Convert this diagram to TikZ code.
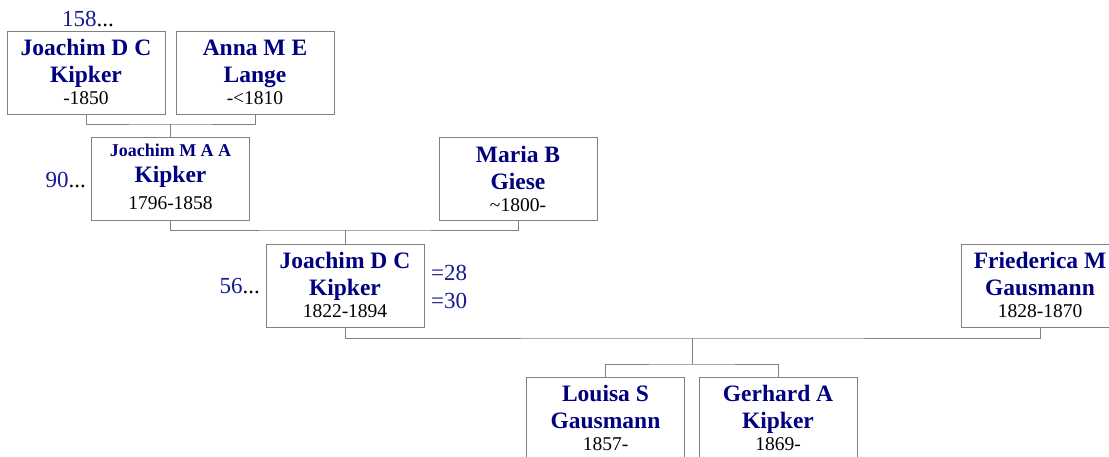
\documentclass[tikz,border=0pt]{standalone}
\usepackage{fontspec}
\setmainfont{Liberation Serif}
\definecolor{nm}{RGB}{0,0,128}
\definecolor{num}{RGB}{24,24,150}
\definecolor{ln}{RGB}{128,128,128}
\tikzset{
 pbox/.style={draw=ln,line width=1pt,minimum width=158pt,minimum height=83pt,inner sep=0pt,fill=white},
 conn/.style={draw=ln,line width=1pt},
 nmtext/.style={text=nm,font=\fontsize{23.5}{27}\selectfont\bfseries,anchor=base,inner sep=0pt},
 smtext/.style={text=nm,font=\fontsize{18}{20}\selectfont\bfseries,anchor=base,inner sep=0pt},
 dttext/.style={text=black,font=\fontsize{19.5}{22}\selectfont,anchor=base,inner sep=0pt},
 numtext/.style={text=black,font=\fontsize{23}{26}\selectfont,inner sep=0pt},
}
\newcommand\person[6]{%
 \node[pbox] (#1) at (#2,#3) {};
 \node[nmtext] (#1a) at ([yshift=-25pt]#1.north) {#4};
 \node[nmtext] (#1b) at ([yshift=-52pt]#1.north) {#5};
 \node[dttext] (#1c) at ([yshift=-74pt]#1.north) {#6};
}
\begin{document}
\begin{tikzpicture}[x=1pt,y=-1pt]
\useasboundingbox (0,0) rectangle (1109,456);
\clip (0,0) rectangle (1109,456);
\fill[white] (0,0) rectangle (1109,456);
% boxes
\person{b1}{86}{72.5}{Joachim D C}{Kipker}{-1850}
\person{b2}{255}{72.5}{Anna M E}{Lange}{-<1810}
\node[pbox] (b3) at (170.5,179) {};
\node[smtext] (b3a) at ([yshift=-19pt]b3.north) {Joachim M A A};
\node[nmtext] (b3b) at ([yshift=-45.5pt]b3.north) {Kipker};
\node[dttext] (b3c) at ([yshift=-72pt]b3.north) {1796-1858};
\person{b4}{518}{179}{Maria B}{Giese}{\textasciitilde1800-}
\person{b5}{345}{285.5}{Joachim D C}{Kipker}{1822-1894}
\person{b6}{1040}{285.5}{Friederica M}{Gausmann}{1828-1870}
\person{b7}{605.5}{418.5}{Louisa S}{Gausmann}{1857-}
\person{b8}{778}{418.5}{Gerhard A}{Kipker}{1869-}
% connectors
\coordinate (m1) at (170.5,124);
\coordinate (m2) at (345,230);
\coordinate (m3) at (692,338);
\coordinate (m4) at (692,364);
\draw[conn] (b1.south) |- (m1) -| (b2.south);
\draw[conn] (m1) -- (b3.north);
\draw[conn] (b3.south) |- (m2) -| (b4.south);
\draw[conn] (m2) -- (b5.north);
\draw[conn] (b5.south) |- (m3) -| (b6.south);
\draw[conn] (m3) -- (m4);
\draw[conn] (b7.north) |- (m4) -| (b8.north);
% numbers
\node[numtext,anchor=base west] (n158) at (62,26) {\textcolor{num}{158}...};
\node[numtext,anchor=base east] (n90) at (86,187) {\textcolor{num}{90}...};
\node[numtext,anchor=base east] (n56) at (260,293) {\textcolor{num}{56}...};
\node[numtext,anchor=base west,text=num] (n28) at (431,280) {=28};
\node[numtext,anchor=base west,text=num] (n30) at (431,308) {=30};
\end{tikzpicture}
\end{document}
